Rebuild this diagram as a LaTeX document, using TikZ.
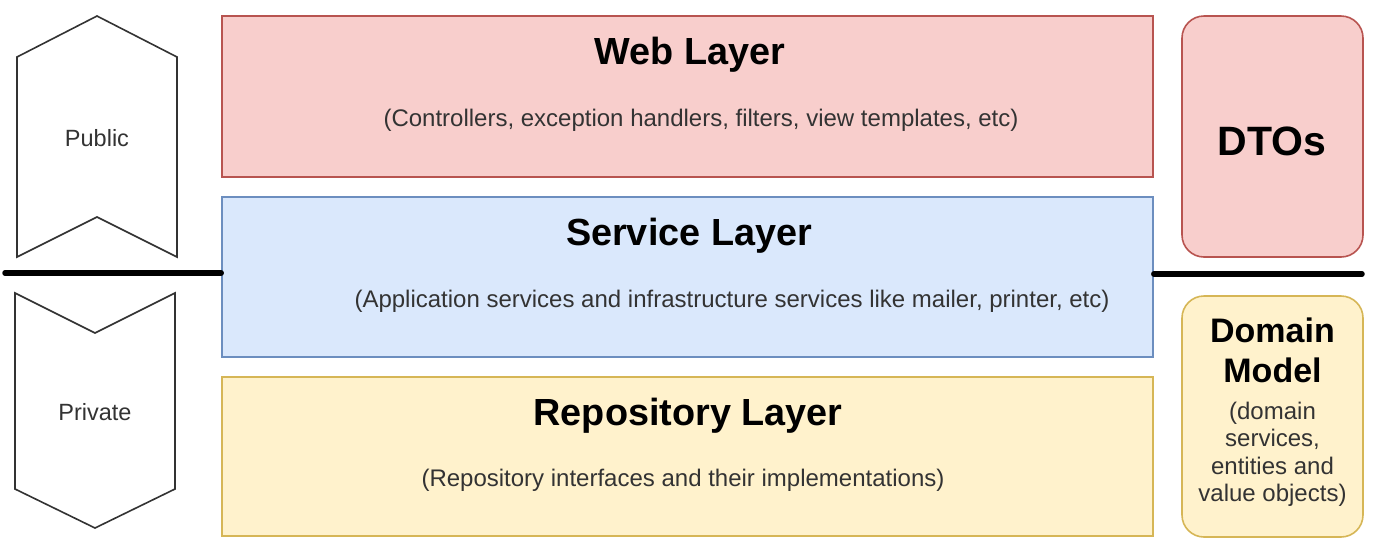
\documentclass[tikz,border=0pt]{standalone}
\usepackage{fontspec}
\setmainfont{Liberation Sans}
\definecolor{redfill}{HTML}{F8CECC}
\definecolor{redline}{HTML}{B85450}
\definecolor{bluefill}{HTML}{DAE8FC}
\definecolor{blueline}{HTML}{6C8EBF}
\definecolor{yelfill}{HTML}{FFF2CC}
\definecolor{yelline}{HTML}{D6B656}
\definecolor{inkgray}{HTML}{333333}
\begin{document}
\begin{tikzpicture}[x=1pt,y=-1pt,
  layerbox/.style={rectangle, draw, line width=1.6pt, minimum width=931pt, inner sep=0pt},
  sidebox/.style={rectangle, rounded corners=22pt, draw, line width=1.6pt, minimum width=181pt, minimum height=241pt, inner sep=0pt},
  heading/.style={anchor=base, inner sep=0pt, font=\fontsize{37.8}{40}\selectfont\bfseries},
  bigheading/.style={heading, font=\fontsize{41}{44}\selectfont\bfseries},
  smallheading/.style={heading, font=\fontsize{34}{40}\selectfont\bfseries},
  note/.style={anchor=base, inner sep=0pt, text=inkgray, font=\fontsize{24}{27.5}\selectfont},
  tag/.style={anchor=base, inner sep=0pt, text=inkgray, font=\fontsize{23.5}{27}\selectfont},
  banner/.style={draw=inkgray, line width=1.6pt, fill=white, line join=miter},
  divider/.style={line width=5.5pt, line cap=round}]
\useasboundingbox (0,0) rectangle (1374,550);

% layers
\node[layerbox, fill=redfill, draw=redline, minimum height=161pt] (web) at (687.5,96.5) {};
\node[layerbox, fill=bluefill, draw=blueline, minimum height=160pt] (service) at (687.5,277) {};
\node[layerbox, fill=yelfill, draw=yelline, minimum height=159pt] (repo) at (687.5,456.5) {};

\node[heading] (webT) at (690,64) {Web Layer};
\node[note] (webN) at (701,126) {(Controllers, exception handlers, filters, view templates, etc)};
\node[heading] (serviceT) at (689,245) {Service Layer};
\node[note] (serviceN) at (732,307) {(Application services and infrastructure services like mailer, printer, etc)};
\node[heading] (repoT) at (688,425) {Repository Layer};
\node[note] (repoN) at (683,486) {(Repository interfaces and their implementations)};

% side boxes
\node[sidebox, fill=redfill, draw=redline] (dto) at (1272.5,136.5) {};
\node[bigheading] (dtoT) at (1272,155) {DTOs};
\node[sidebox, fill=yelfill, draw=yelline] (domain) at (1272.5,416.5) {};
\node[smallheading] (dm1) at (1272.5,342) {Domain};
\node[smallheading] (dm2) at (1272.5,382) {Model};
\node[note] (dm3) at (1272.5,419) {(domain};
\node[note] (dm4) at (1272.5,446) {services,};
\node[note] (dm5) at (1272.5,474) {entities and};
\node[note] (dm6) at (1272.5,501) {value objects)};

% public / private banners
\draw[banner] (17,57) -- (97,16) -- (177,57) -- (177,257) -- (97,217) -- (17,257) -- cycle;
\node[tag] (pub) at (97,146) {Public};
\draw[banner] (15,293) -- (95,333) -- (175,293) -- (175,489) -- (95,528) -- (15,489) -- cycle;
\node[tag] (priv) at (95,420) {Private};

% public / private divider
\coordinate (divL) at (5,273);
\coordinate (divR) at (1362,274);
\draw[divider] (divL) -- (divL -| service.west);
\draw[divider] (divR -| service.east) -- (divR);
\end{tikzpicture}
\end{document}
